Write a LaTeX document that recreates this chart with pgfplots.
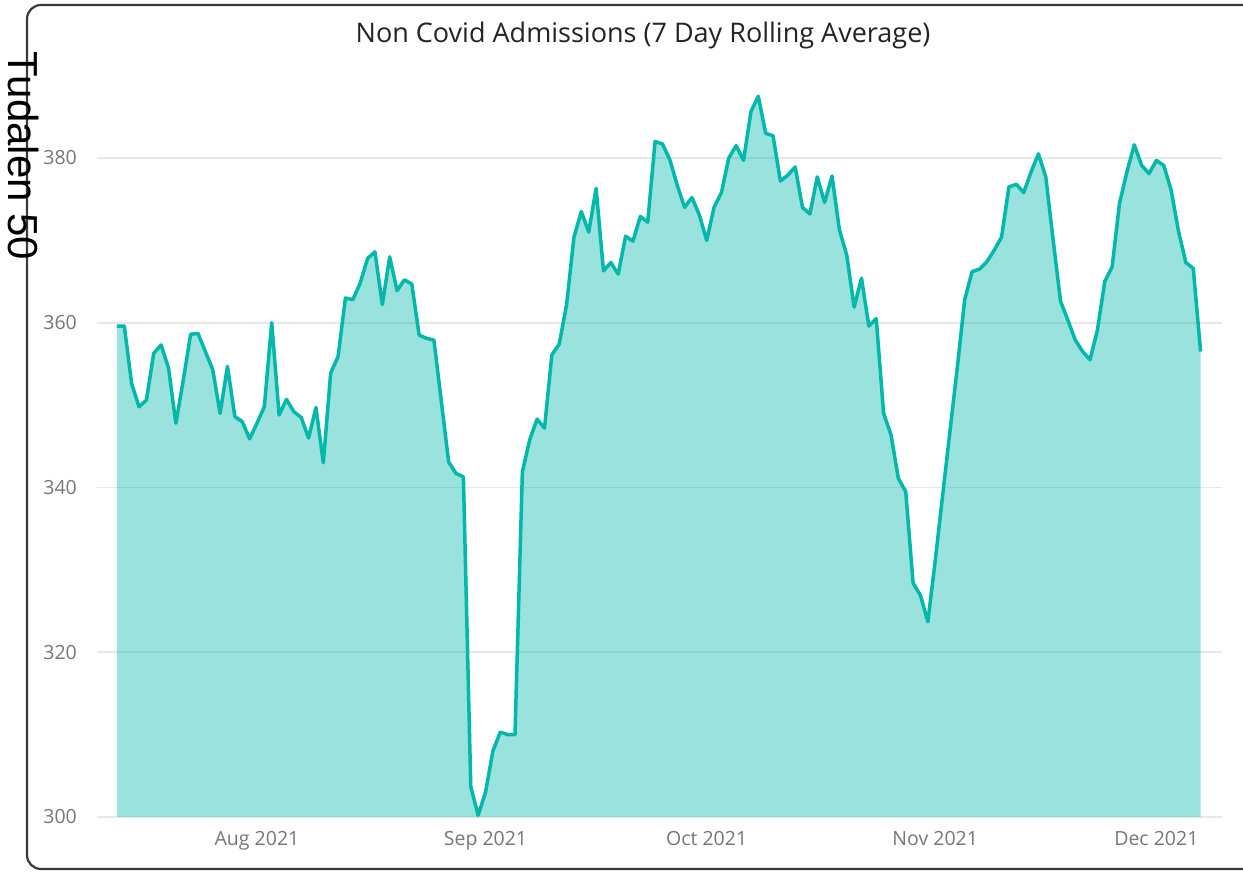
\documentclass[border=0pt]{standalone}
\usepackage{fontspec}
\setmainfont{Open Sans}
\newfontfamily\pagefont{Liberation Sans}
\usepackage{pgfplots}
\usepackage{pgfplotstable}
\pgfplotsset{compat=1.18}

\definecolor{pbteal}{HTML}{01B8AA}
\definecolor{tickgray}{HTML}{777777}
\definecolor{gridc}{HTML}{E8E8E8}
\definecolor{titlec}{HTML}{252423}
\definecolor{framec}{HTML}{3A3A3A}

% day index: 0 = 1 Aug 2021
\pgfplotstableread{
d v
-19 359.6
-18 359.6
-17 352.6
-16 349.8
-15 350.6
-14 356.3
-13 357.3
-12 354.5
-11 347.8
-10 353.0
-9 358.6
-8 358.7
-7 356.5
-6 354.3
-5 349.0
-4 354.7
-3 348.6
-2 348.0
-1 345.9
0 347.8
1 349.8
2 360.0
3 348.8
4 350.7
5 349.2
6 348.5
7 346.0
8 349.7
9 343.0
10 353.9
11 355.9
12 363.0
13 362.8
14 364.8
15 367.8
16 368.6
17 362.2
18 368.0
19 363.9
20 365.2
21 364.7
22 358.5
23 358.1
24 357.9
25 350.5
26 343.1
27 341.7
28 341.3
29 303.7
30 300.2
31 303.0
32 308.0
33 310.3
34 310.0
35 310.0
36 341.9
37 345.8
38 348.3
39 347.2
40 356.1
41 357.4
42 362.2
43 370.4
44 373.5
45 371.0
46 376.3
47 366.3
48 367.3
49 365.9
50 370.5
51 369.9
52 372.9
53 372.2
54 382.0
55 381.7
56 379.8
57 376.7
58 374.0
59 375.2
60 373.1
61 370.0
62 374.0
63 375.8
64 380.0
65 381.5
66 379.7
67 385.6
68 387.5
69 383.0
70 382.7
71 377.2
72 377.9
73 378.9
74 374.0
75 373.2
76 377.7
77 374.6
78 377.8
79 371.3
80 368.2
81 361.9
82 365.4
83 359.6
84 360.5
85 349.0
86 346.4
87 341.1
88 339.5
89 328.4
90 326.9
91 323.7
92 331.1
93 339.0
94 346.8
95 354.6
96 362.8
97 366.2
98 366.5
99 367.4
100 368.8
101 370.4
102 376.5
103 376.8
104 375.8
105 378.3
106 380.5
107 377.7
108 370.0
109 362.6
110 360.3
111 357.9
112 356.5
113 355.5
114 359.1
115 365.0
116 366.8
117 374.5
118 378.3
119 381.6
120 379.1
121 378.1
122 379.7
123 379.1
124 376.1
125 371.1
126 367.3
127 366.6
128 356.5
}\admissions

\begin{document}
\begin{tikzpicture}
  \clip (0pt,0pt) rectangle (1243pt,872pt);
  \fill[white] (0pt,0pt) rectangle (1243pt,872pt);
  % card frame
  \draw[framec, line width=2.2pt, rounded corners=14pt] (27pt,3pt) rectangle (1265pt,867pt);
  \begin{axis}[
    at={(97pt,55pt)}, anchor=south west,
    scale only axis,
    width=1125pt, height=741.4pt,
    xmin=-21.7, xmax=130.9,
    ymin=300, ymax=390,
    axis line style={draw=none},
    major tick length=0pt,
    xtick={0,31,61,92,122},
    xticklabels={Aug 2021,Sep 2021,Oct 2021,Nov 2021,Dec 2021},
    ytick={300,320,340,360,380},
    yticklabel={\pgfmathprintnumber{\tick}\hspace*{20pt}},
    ymajorgrids,
    grid style={gridc, line width=1.6pt},
    /pgf/number format/assume math mode=true,
    /pgf/number format/1000 sep={},
    tick label style={font=\fontsize{19.5}{22}\selectfont, text=tickgray},
    yticklabel style={anchor=east, inner sep=0pt},
    xticklabel style={anchor=north, inner sep=0pt, yshift=-14pt},
  ]
    \addplot[draw=none, fill=pbteal, fill opacity=0.4] table[x=d, y=v] {\admissions} \closedcycle;
    \addplot[pbteal, line width=3.5pt, line join=round] table[x=d, y=v] {\admissions};
  \end{axis}
  \node[font=\fontsize{27}{30}\selectfont, text=titlec] at (643pt,837pt) {Non Covid Admissions (7 Day Rolling Average)};
  \node[rotate=-90, inner sep=0pt, font=\pagefont\fontsize{42}{42}\selectfont] at (24pt,716pt) {Tudalen 50};
\end{tikzpicture}
\end{document}
